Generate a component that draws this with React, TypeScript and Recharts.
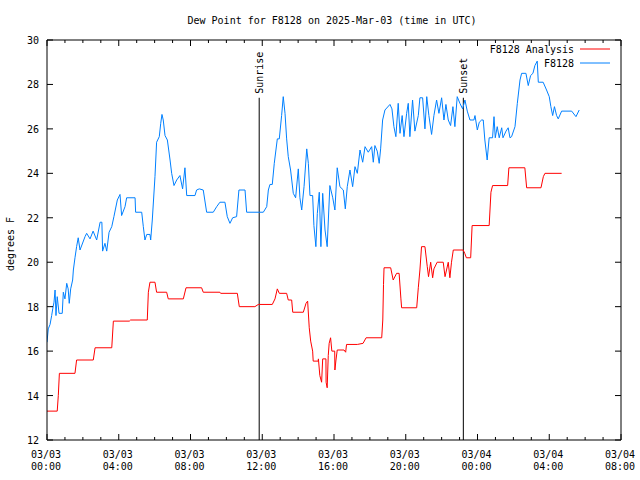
import React from "react";
import { LineChart, Line, XAxis, YAxis, ReferenceLine } from "recharts";

// time in hours from 03/03 00:00 UTC
const obsHours = [
  0.0, 0.07, 0.17, 0.26, 0.32, 0.39, 0.45, 0.5, 0.57, 0.67, 0.85, 0.91, 1.0, 1.1, 1.18, 1.24, 1.32, 1.43, 1.47, 1.56,
  1.65, 1.74, 1.84, 2.12, 2.21, 2.4, 2.57, 2.77, 2.96, 3.06, 3.1, 3.23, 3.33, 3.46, 3.61, 3.73, 3.92, 4.07, 4.16, 4.35,
  4.44, 4.91, 4.94, 5.28, 5.37, 5.46, 5.56, 5.74, 5.78, 5.87, 6.02, 6.11, 6.26, 6.34, 6.41, 6.48, 6.58, 6.71, 6.86, 6.95,
  7.08, 7.23, 7.41, 7.56, 7.69, 7.79, 8.25, 8.34, 8.49, 8.71, 8.9, 9.27, 9.46, 9.64, 9.92, 10.05, 10.2, 10.35, 10.57, 10.7,
  11.04, 11.13, 12.06, 12.25, 12.34, 12.43, 12.56, 12.67, 12.84, 12.95, 13.08, 13.17, 13.27, 13.36, 13.45, 13.58, 13.73,
  13.86, 14.01, 14.1, 14.2, 14.33, 14.48, 14.57, 14.66, 14.81, 14.88, 14.99, 15.07, 15.18, 15.27, 15.37, 15.5, 15.62,
  15.77, 15.93, 16.05, 16.18, 16.33, 16.52, 16.63, 16.74, 16.89, 17.04, 17.17, 17.3, 17.45, 17.6, 17.73, 17.91, 18.1,
  18.19, 18.28, 18.41, 18.52, 18.6, 18.71, 18.84, 19.12, 19.23, 19.34, 19.45, 19.58, 19.68, 19.8, 19.9, 20.05, 20.14,
  20.23, 20.38, 20.51, 20.7, 20.79, 20.94, 21.07, 21.17, 21.29, 21.44, 21.57, 21.72, 21.85, 22.0, 22.13, 22.24, 22.37,
  22.5, 22.63, 22.74, 22.87, 23.02, 23.17, 23.3, 23.43, 23.58, 23.8, 23.86, 23.99, 24.1, 24.23, 24.32, 24.41, 24.54,
  24.65, 24.84, 24.92, 24.99, 25.1, 25.21, 25.35, 25.42, 25.59, 25.71, 25.81, 25.9, 26.09, 26.22, 26.37, 26.46, 26.7,
  26.83, 26.96, 27.09, 27.2, 27.33, 27.39, 27.66, 27.85, 28.0, 28.09, 28.19, 28.29, 28.41, 28.5, 28.69, 29.25, 29.49,
  29.67,
];
const obsDew = [
  16.4, 17.0, 17.2, 17.6, 17.9, 18.2, 18.75, 17.6, 18.45, 17.7, 17.7, 18.65, 18.35, 19.05, 18.8, 18.15, 18.8, 19.2, 19.65,
  20.2, 20.7, 21.1, 20.55, 21.15, 21.3, 21.05, 21.4, 21.0, 21.8, 21.8, 20.5, 20.85, 20.5, 21.35, 21.6, 22.05, 22.8, 23.05,
  22.1, 22.5, 22.9, 22.9, 22.25, 22.25, 21.6, 21.0, 21.25, 21.25, 21.0, 21.9, 23.85, 25.4, 25.65, 26.25, 26.65, 26.4,
  25.7, 25.5, 24.6, 24.0, 23.45, 23.7, 23.9, 23.3, 24.25, 23.0, 23.0, 23.25, 23.3, 23.25, 22.25, 22.25, 22.5, 22.7, 22.7,
  22.05, 21.75, 22.0, 22.05, 23.25, 23.25, 22.25, 22.25, 22.5, 23.25, 23.5, 23.5, 24.45, 25.55, 25.55, 26.6, 27.45, 26.7,
  25.55, 24.75, 24.15, 23.1, 22.9, 24.2, 22.9, 22.35, 23.4, 25.1, 24.45, 23.0, 23.0, 21.65, 20.7, 22.2, 23.15, 20.7,
  23.1, 21.45, 20.7, 23.45, 22.9, 22.35, 24.25, 23.4, 23.25, 22.4, 23.4, 24.15, 23.4, 24.3, 24.0, 25.05, 24.5, 25.2,
  24.95, 25.2, 24.5, 25.25, 25.0, 24.45, 25.1, 26.4, 26.85, 27.1, 26.9, 26.1, 25.65, 27.15, 25.8, 26.6, 25.65, 26.7,
  27.15, 25.65, 27.3, 25.9, 26.6, 27.4, 27.4, 26.0, 27.45, 26.6, 25.75, 26.6, 27.3, 26.7, 27.4, 26.4, 27.1, 26.4, 26.15,
  27.0, 26.1, 27.45, 27.15, 26.9, 27.3, 26.8, 26.4, 26.4, 26.6, 25.95, 26.3, 26.4, 26.4, 25.5, 24.6, 25.6, 25.6, 26.55,
  25.6, 26.1, 25.6, 26.05, 25.6, 25.9, 26.05, 25.6, 25.65, 26.1, 27.15, 28.2, 28.5, 28.5, 27.95, 28.4, 28.5, 28.85,
  29.05, 28.1, 28.1, 27.75, 27.45, 27.0, 26.6, 27.0, 26.6, 26.45, 26.8, 26.8, 26.55, 26.85,
];

const anaHours = [
  0.0, 0.57, 0.63, 0.69, 1.56, 1.65, 2.58, 2.68, 3.61, 3.7, 4.59, 4.66, 5.59, 5.65, 5.74, 6.02, 6.11, 6.67, 6.76, 7.6,
  7.75, 8.62, 8.71, 9.64, 9.68, 10.61, 10.72, 11.59, 11.78, 12.56, 12.71, 12.84, 12.95, 13.36, 13.45, 13.64, 13.7, 14.29,
  14.44, 14.53, 14.62, 14.7, 14.81, 14.84, 15.12, 15.13, 15.21, 15.31, 15.37, 15.55, 15.56, 15.62, 15.68, 15.73, 15.81,
  15.88, 16.04, 16.05, 16.11, 16.18, 16.56, 16.65, 16.7, 17.3, 17.62, 17.79, 18.66, 18.72, 18.76, 18.79, 19.16, 19.3,
  19.49, 19.63, 19.73, 19.77, 20.61, 20.7, 20.79, 20.88, 21.07, 21.2, 21.27, 21.39, 21.5, 21.57, 21.75, 22.09, 22.19,
  22.37, 22.46, 22.55, 22.65, 23.2, 23.29, 23.38, 23.62, 23.7, 24.65, 24.75, 24.84, 25.68, 25.75, 26.64, 26.74, 27.54,
  27.67, 27.76, 28.69,
];
const anaDew = [
  13.3, 13.3, 14.0, 15.0, 15.0, 15.6, 15.6, 16.15, 16.15, 17.35, 17.35, 17.4, 17.4, 18.65, 19.1, 19.1, 18.65, 18.65,
  18.35, 18.35, 18.85, 18.85, 18.65, 18.65, 18.6, 18.6, 18.0, 18.0, 18.1, 18.1, 18.35, 18.8, 18.6, 18.6, 18.3, 18.3,
  17.75, 17.75, 18.15, 18.25, 17.05, 16.45, 16.0, 15.55, 15.55, 15.65, 14.9, 14.6, 15.65, 15.65, 14.6, 14.35, 15.8,
  16.35, 16.6, 16.0, 16.0, 15.15, 15.6, 16.05, 16.05, 15.95, 16.3, 16.3, 16.35, 16.6, 16.6, 17.4, 19.0, 19.75, 19.75,
  19.2, 19.5, 19.5, 18.35, 17.95, 17.95, 18.85, 19.65, 20.7, 20.7, 19.8, 19.35, 20.0, 19.3, 19.7, 20.0, 20.0, 19.35, 20.0,
  19.3, 20.0, 20.55, 20.55, 20.4, 20.2, 20.2, 21.65, 21.65, 23.15, 23.45, 23.45, 24.25, 24.25, 23.35, 23.35, 23.85, 24.0,
  24.0,
];

const tickDates = ["03/03", "03/03", "03/03", "03/03", "03/03", "03/03", "03/04", "03/04", "03/04"];
const tickTimes = ["00:00", "04:00", "08:00", "12:00", "16:00", "20:00", "00:00", "04:00", "08:00"];
const yTicks = [12, 14, 16, 18, 20, 22, 24, 26, 28, 30];
const sunriseHour = 11.83;
const sunsetHour = 23.21;

const hourTicks = Array.from({ length: 33 }, (_, i) => i);
const obsData = obsHours.map((t, i) => ({ t, v: obsDew[i] }));
const anaData = anaHours.map((t, i) => ({ t, v: anaDew[i] }));

const FONT = "'DejaVu Sans Mono', monospace";

function BottomTick(props: any) {
  const { x, y, payload } = props;
  const h = payload.value;
  const major = h % 4 === 0;
  return (
    <g>
      <line x1={x} x2={x} y1={y} y2={y - (major ? 6 : 3)} stroke="#000" />
      {major && (
        <text x={x - 1} y={y + 18} textAnchor="middle" fontSize={10} fontFamily={FONT} fill="#000">
          {tickDates[h / 4]}
        </text>
      )}
      {major && (
        <text x={x - 1} y={y + 30} textAnchor="middle" fontSize={10} fontFamily={FONT} fill="#000">
          {tickTimes[h / 4]}
        </text>
      )}
    </g>
  );
}

function TopTick(props: any) {
  const { x, y, payload } = props;
  const major = payload.value % 4 === 0;
  return <line x1={x} x2={x} y1={y} y2={y + (major ? 6 : 3)} stroke="#000" />;
}

function LeftTick(props: any) {
  const { x, y, payload } = props;
  return (
    <g>
      <line x1={x} x2={x + 6} y1={y} y2={y} stroke="#000" />
      <text x={x - 8} y={y + 4} textAnchor="end" fontSize={10} fontFamily={FONT} fill="#000">
        {payload.value}
      </text>
    </g>
  );
}

function RightTick(props: any) {
  const { x, y } = props;
  return <line x1={x} x2={x - 6} y1={y} y2={y} stroke="#000" />;
}

function SunLabel(props: any) {
  const { viewBox, text } = props;
  const x = viewBox.x + 4;
  const y = viewBox.y - 4;
  return (
    <text x={x} y={y} transform={`rotate(-90, ${x}, ${y})`} fontSize={10} fontFamily={FONT} fill="#000">
      {text}
    </text>
  );
}

export default function App() {
  return (
    <div style={{ width: 640, height: 480, background: "#fff" }}>
      <style>{"body{margin:0}"}</style>
      <LineChart width={640} height={480} margin={{ top: 30, right: 9, bottom: 0, left: 7 }}>
        <text x={332} y={24} textAnchor="middle" fontSize={10} fontFamily={FONT} fill="#000">
          Dew Point for F8128 on 2025-Mar-03 (time in UTC)
        </text>
        <text x={14} y={244} textAnchor="middle" transform="rotate(-90, 14, 244)" fontSize={10} fontFamily={FONT} fill="#000">
          degrees F
        </text>
        <XAxis
          xAxisId="bottom"
          type="number"
          dataKey="t"
          domain={[0, 32]}
          ticks={hourTicks}
          interval={0}
          height={40}
          tickSize={0}
          tickMargin={0}
          tickLine={false}
          axisLine={{ stroke: "#000" }}
          tick={<BottomTick />}
          allowDataOverflow
        />
        <XAxis
          xAxisId="top"
          orientation="top"
          type="number"
          dataKey="t"
          domain={[0, 32]}
          ticks={hourTicks}
          interval={0}
          height={10}
          tickSize={0}
          tickMargin={0}
          tickLine={false}
          axisLine={{ stroke: "#000" }}
          tick={<TopTick />}
          allowDataOverflow
        />
        <YAxis
          yAxisId="left"
          type="number"
          domain={[12, 30]}
          ticks={yTicks}
          interval={0}
          width={40}
          tickSize={0}
          tickMargin={0}
          tickLine={false}
          axisLine={{ stroke: "#000" }}
          tick={<LeftTick />}
          allowDataOverflow
        />
        <YAxis
          yAxisId="right"
          orientation="right"
          type="number"
          domain={[12, 30]}
          ticks={yTicks}
          interval={0}
          width={10}
          tickSize={0}
          tickMargin={0}
          tickLine={false}
          axisLine={{ stroke: "#000" }}
          tick={<RightTick />}
          allowDataOverflow
        />
        <ReferenceLine
          xAxisId="bottom"
          yAxisId="right"
          segment={[{ x: sunriseHour, y: 27.4 }, { x: sunriseHour, y: 12 }]}
          stroke="#000"
          label={<SunLabel text="Sunrise" />}
        />
        <ReferenceLine
          xAxisId="bottom"
          yAxisId="right"
          segment={[{ x: sunsetHour, y: 27.4 }, { x: sunsetHour, y: 12 }]}
          stroke="#000"
          label={<SunLabel text="Sunset" />}
        />
        <Line
          xAxisId="top"
          yAxisId="left"
          data={obsData}
          dataKey="v"
          type="linear"
          stroke="#0080ff"
          strokeWidth={1}
          dot={false}
          isAnimationActive={false}
        />
        <Line
          xAxisId="bottom"
          yAxisId="right"
          data={anaData}
          dataKey="v"
          type="linear"
          stroke="#ff0000"
          strokeWidth={1}
          dot={false}
          isAnimationActive={false}
        />
        <g fontSize={10} fontFamily={FONT}>
          <text x={574} y={53} textAnchor="end" fill="#000">F8128 Analysis</text>
          <line x1={580} x2={610} y1={49} y2={49} stroke="#ff0000" />
          <text x={574} y={67} textAnchor="end" fill="#000">F8128</text>
          <line x1={580} x2={610} y1={63} y2={63} stroke="#0080ff" />
        </g>
      </LineChart>
    </div>
  );
}
